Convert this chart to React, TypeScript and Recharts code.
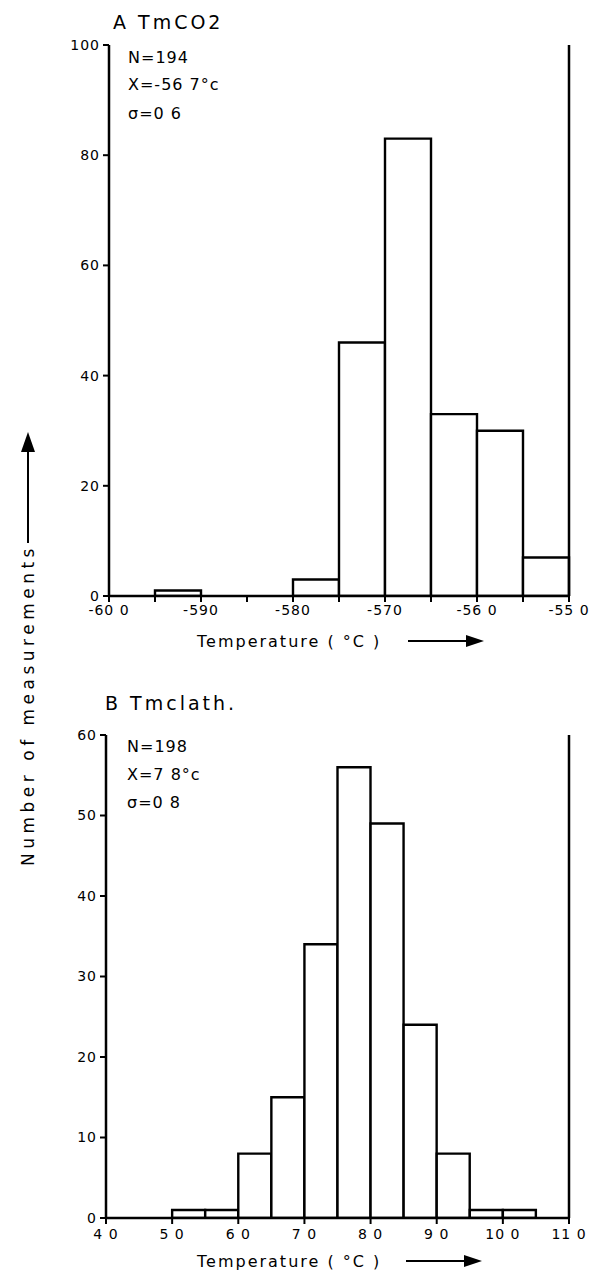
import React from 'react';
import { BarChart, Bar, XAxis, YAxis, ReferenceLine } from 'recharts';

const FONT = '"DejaVu Sans", sans-serif';

// A  TmCO2, 0.5 degree bins
const co2BinStarts = [-60, -59.5, -59, -58.5, -58, -57.5, -57, -56.5, -56, -55.5];
const co2Counts = [0, 1, 0, 0, 3, 46, 83, 33, 30, 7];
const co2Ticks = [-60, -59.5, -59, -58.5, -58, -57.5, -57, -56.5, -56, -55.5, -55];
const co2TickLabels = ['-60 0', '', '-590', '', '-580', '', '-570', '', '-56 0', '', '-55 0'];
const co2YTicks = [0, 20, 40, 60, 80, 100];

// B  Tmclath, 0.5 degree bins
const clathBinStarts = [4, 4.5, 5, 5.5, 6, 6.5, 7, 7.5, 8, 8.5, 9, 9.5, 10, 10.5];
const clathCounts = [0, 0, 1, 1, 8, 15, 34, 56, 49, 24, 8, 1, 1, 0];
const clathTicks = [4, 5, 6, 7, 8, 9, 10, 11];
const clathTickLabels = ['4 0', '5 0', '6 0', '7 0', '8 0', '9 0', '10 0', '11 0'];
const clathYTicks = [0, 10, 20, 30, 40, 50, 60];

const BIN = 0.5;

const tickStyle = { fill: '#000', fontSize: 14, fontFamily: FONT, letterSpacing: 1 };
const axisStyle = { stroke: '#000', strokeWidth: 2.5 };

type HistProps = {
  starts: number[];
  counts: number[];
  ticks: number[];
  labels: string[];
  yTicks: number[];
  height: number;
  margin: { top: number; right: number; left: number; bottom: number };
  yWidth: number;
  xTickMargin: number;
};

const Histogram = ({ starts, counts, ticks, labels, yTicks, height, margin, yWidth, xTickMargin }: HistProps) => {
  const data = starts.map((s, i) => ({ bin: String(s), mid: s + BIN / 2, count: counts[i] }));
  const lo = ticks[0];
  const hi = ticks[ticks.length - 1];
  const yMax = yTicks[yTicks.length - 1];
  return (
    <BarChart width={591} height={height} data={data} margin={margin} barCategoryGap={0} barGap={0}>
      <XAxis xAxisId="bins" dataKey="bin" type="category" hide height={0} />
      <XAxis
        xAxisId="num"
        dataKey="mid"
        type="number"
        domain={[lo, hi]}
        ticks={ticks}
        interval={0}
        allowDataOverflow
        height={30}
        axisLine={axisStyle}
        tickLine={{ stroke: '#000', strokeWidth: 2 }}
        tickSize={6}
        tickMargin={xTickMargin}
        tick={tickStyle}
        tickFormatter={(v: number) => labels[ticks.indexOf(v)] ?? ''}
      />
      <YAxis
        domain={[0, yMax]}
        ticks={yTicks}
        interval={0}
        allowDataOverflow
        width={yWidth}
        axisLine={axisStyle}
        tickLine={{ stroke: '#000', strokeWidth: 2 }}
        tickSize={6}
        tickMargin={3}
        tick={tickStyle}
      />
      <Bar
        xAxisId="bins"
        dataKey="count"
        fill="#fff"
        stroke="#000"
        strokeWidth={2.4}
        isAnimationActive={false}
      />
      <ReferenceLine xAxisId="num" x={hi} stroke="#000" strokeWidth={2.5} />
    </BarChart>
  );
};

const Arrow = ({ x1, x2, y }: { x1: number; x2: number; y: number }) => (
  <g>
    <line x1={x1} y1={y} x2={x2 - 14} y2={y} stroke="#000" strokeWidth={2} />
    <polygon points={`${x2 - 18},${y - 6} ${x2},${y} ${x2 - 18},${y + 6}`} fill="#000" />
  </g>
);

export default function App() {
  return (
    <div style={{ position: 'absolute', left: 0, top: 0, width: 591, height: 1274, background: '#fff' }}>
      <div style={{ position: 'absolute', left: 0, top: 0 }}>
        <Histogram
          starts={co2BinStarts}
          counts={co2Counts}
          ticks={co2Ticks}
          labels={co2TickLabels}
          yTicks={co2YTicks}
          height={660}
          margin={{ top: 45, right: 22, left: 0, bottom: 34 }}
          yWidth={109}
          xTickMargin={3}
        />
      </div>
      <div style={{ position: 'absolute', left: 0, top: 660 }}>
        <Histogram
          starts={clathBinStarts}
          counts={clathCounts}
          ticks={clathTicks}
          labels={clathTickLabels}
          yTicks={clathYTicks}
          height={614}
          margin={{ top: 75, right: 22, left: 0, bottom: 26 }}
          yWidth={106}
          xTickMargin={5}
        />
      </div>
      <svg
        width={591}
        height={1274}
        style={{ position: 'absolute', left: 0, top: 0, pointerEvents: 'none' }}
        fontFamily={FONT}
        fill="#000"
      >
        <text x={113} y={29} fontSize={19} letterSpacing={3}>A TmCO2</text>
        <text x={128} y={63} fontSize={16} letterSpacing={1}>N=194</text>
        <text x={128} y={90} fontSize={16} letterSpacing={1}>X=-56 7°c</text>
        <text x={128} y={119} fontSize={16} letterSpacing={1}>σ=0 6</text>
        <text x={197} y={647} fontSize={16} letterSpacing={2}>Temperature ( °C )</text>
        <Arrow x1={408} x2={484} y={641} />

        <text x={105} y={710} fontSize={19} letterSpacing={3}>B Tmclath.</text>
        <text x={127} y={752} fontSize={16} letterSpacing={1}>N=198</text>
        <text x={127} y={780} fontSize={16} letterSpacing={1}>X=7 8°c</text>
        <text x={127} y={808} fontSize={16} letterSpacing={1}>σ=0 8</text>
        <text x={197} y={1267} fontSize={16} letterSpacing={2}>Temperature ( °C )</text>
        <Arrow x1={406} x2={482} y={1261} />

        <text
          x={0}
          y={0}
          fontSize={17}
          letterSpacing={4.5}
          textAnchor="middle"
          transform="translate(34,705) rotate(-90)"
        >
          Number of measurements
        </text>
        <line x1={28} y1={543} x2={28} y2={448} stroke="#000" strokeWidth={2} />
        <polygon points="21,452 28,432 35,452" fill="#000" />
      </svg>
    </div>
  );
}
